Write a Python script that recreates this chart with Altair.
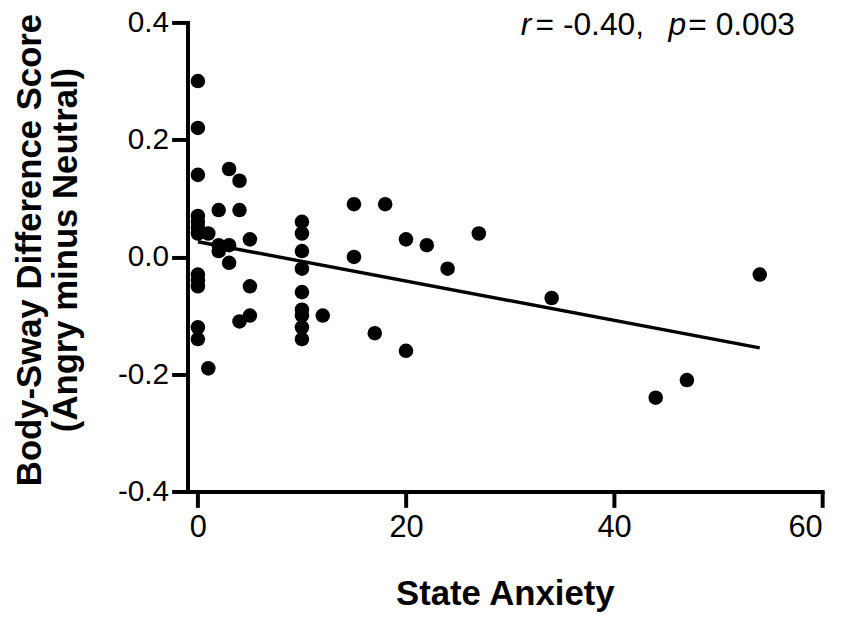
import altair as alt
import pandas as pd

# State anxiety (x) and body-sway difference score (y)
anxiety = [0, 0, 0, 0, 0, 0, 0, 0, 0, 0, 0, 0,
           1, 1,
           2, 2, 2,
           3, 3, 3,
           4, 4, 4,
           5, 5, 5,
           10, 10, 10, 10, 10, 10, 10, 10, 10,
           12, 15, 15, 17, 18, 20, 20, 22, 24, 27, 34, 44, 47, 54]
sway = [0.30, 0.22, 0.14, 0.07, 0.06, 0.05, 0.04, -0.03, -0.04, -0.05, -0.12, -0.14,
        0.04, -0.19,
        0.08, 0.02, 0.01,
        0.15, 0.02, -0.01,
        0.13, 0.08, -0.11,
        0.03, -0.05, -0.10,
        0.06, 0.04, 0.01, -0.02, -0.06, -0.09, -0.10, -0.12, -0.14,
        -0.10, 0.09, 0.00, -0.13, 0.09, 0.03, -0.16, 0.02, -0.02, 0.04, -0.07, -0.24, -0.21, -0.03]

# regression line
fit_x = [0, 54]
fit_y = [0.026, -0.155]

x_ticks = [0, 20, 40, 60]
y_ticks = [-0.4, -0.2, 0.0, 0.2, 0.4]

pts = pd.DataFrame({"x": anxiety, "y": sway})
fit = pd.DataFrame({"x": fit_x, "y": fit_y})

FONT = "Liberation Sans"

xscale = alt.Scale(domain=[-1, 60], nice=False, zero=False)
yscale = alt.Scale(domain=[-0.4, 0.4], nice=False, zero=False)

xaxis = alt.Axis(values=x_ticks, tickSize=16, tickWidth=4, tickColor="black",
                 domainWidth=4, domainColor="black", domainCap="square",
                 labelFontSize=31, labelFont=FONT, labelColor="black", labelPadding=5,
                 grid=False, title="State Anxiety", titleFont=FONT, titleFontSize=35,
                 titleFontWeight="bold", titleColor="black", titleY=114,
                 titleBaseline="alphabetic")
yaxis = alt.Axis(values=y_ticks, tickSize=16, tickWidth=4, tickColor="black",
                 domainWidth=4, domainColor="black", domainCap="square",
                 labelFontSize=30, labelFont=FONT, labelColor="black", labelPadding=3,
                 labelExpr="datum.value == 0 ? '0.0' : (datum.value < 0 ? '-' + format(-datum.value, '.1f') : format(datum.value, '.1f'))",
                 grid=False, title=["Body-Sway Difference Score", "(Angry minus Neutral)"],
                 titleFont=FONT, titleFontSize=35, titleFontWeight="bold", titleColor="black",
                 titleAngle=-90, titleX=-159, titleY=229, titleAlign="center",
                 titleBaseline="middle", titleLineHeight=36)

points = alt.Chart(pts).mark_circle(size=215, color="black", opacity=1).encode(
    x=alt.X("x:Q", scale=xscale, axis=xaxis),
    y=alt.Y("y:Q", scale=yscale, axis=yaxis),
)

line = alt.Chart(fit).mark_line(color="black", strokeWidth=3.5).encode(
    x=alt.X("x:Q", scale=xscale),
    y=alt.Y("y:Q", scale=yscale),
)

ann = pd.DataFrame({"t": [0]})
def txt(s, px, italic=False):
    return alt.Chart(ann).mark_text(
        text=s, align="left", baseline="alphabetic", fontSize=32, font=FONT,
        fontStyle="italic" if italic else "normal", color="black"
    ).encode(x=alt.value(px), y=alt.value(13))

chart = alt.layer(
    line, points,
    txt("r", 336, True), txt("= -0.40,", 351), txt("p", 485, True), txt("= 0.003", 505),
).properties(
    width=640, height=473,
    autosize=alt.AutoSizeParams(type="none"),
    padding={"left": 181, "top": 12, "right": 20, "bottom": 122},
).configure_view(strokeOpacity=0)

chart.save("out.html", embed_options={"renderer": "svg", "actions": False})
